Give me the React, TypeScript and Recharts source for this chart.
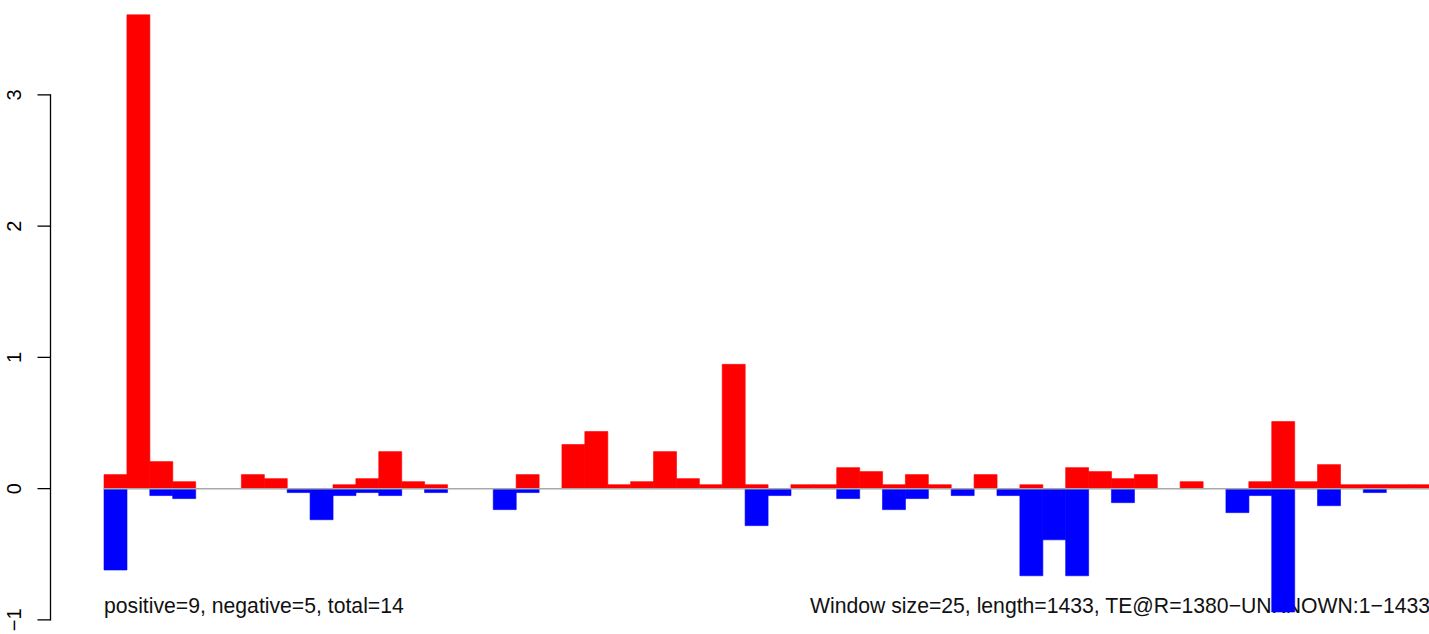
import { BarChart, Bar, XAxis, YAxis, ReferenceLine } from "recharts";

// window-by-window scores (58 windows of 25 bp)
const POSITIVE = [
  0.107, 3.61, 0.206, 0.053, 0, 0, 0.107, 0.076, 0, 0,
  0.03, 0.076, 0.282, 0.053, 0.03, 0, 0, 0, 0.107, 0,
  0.336, 0.435, 0.03, 0.053, 0.282, 0.076, 0.03, 0.947, 0.03, 0,
  0.03, 0.03, 0.16, 0.13, 0.03, 0.107, 0.03, 0, 0.107, 0,
  0.03, 0, 0.16, 0.13, 0.076, 0.107, 0, 0.053, 0, 0,
  0.053, 0.511, 0.053, 0.183, 0.03, 0.03, 0.03, 0.03,
];

const NEGATIVE = [
  -0.62, 0, -0.053, -0.076, 0, 0, 0, 0, -0.03, -0.237,
  -0.053, -0.03, -0.053, 0, -0.03, 0, 0, -0.16, -0.03, 0,
  0, 0, 0, 0, 0, 0, 0, 0, -0.282, -0.053,
  0, 0, -0.076, 0, -0.16, -0.076, 0, -0.053, 0, -0.053,
  -0.664, -0.39, -0.664, 0, -0.107, 0, 0, 0, 0, -0.183,
  -0.053, -0.94, 0, -0.13, 0, -0.03, 0, 0,
];

const Y_TICKS = [-1, 0, 1, 2, 3];
const Y_TICK_LABELS = ["\u22121", "0", "1", "2", "3"];
const Y_DOMAIN: [number, number] = [-1.1, 3.7];

const LEFT_NOTE = "positive=9, negative=5, total=14";
const RIGHT_NOTE = "Window size=25, length=1433, TE@R=1380\u2212UNKNOWN:1\u22121433";

const WIDTH = 1433;
const HEIGHT = 634;
const MARGIN = { top: 3, right: 1, bottom: 1, left: 44 };
const Y_AXIS_WIDTH = 60;
const PLOT_HEIGHT = HEIGHT - MARGIN.top - MARGIN.bottom;
const UNIT_PX = PLOT_HEIGHT / (Y_DOMAIN[1] - Y_DOMAIN[0]);

const AXIS_X = 50.5;
const TICK_LEN = 13;
const LABEL_X = 21;
const FONT = "'Liberation Sans', Arial, Helvetica, sans-serif";
const FONT_SIZE = 21.2;

const data = POSITIVE.map((p, i) => ({ window: i, pos: p, neg: NEGATIVE[i] }));

function AxisTick({ y, payload, index }: any) {
  const first = index === 0;
  const span = (Y_TICKS[Y_TICKS.length - 1] - Y_TICKS[0]) * UNIT_PX;
  return (
    <g>
      <line x1={AXIS_X - TICK_LEN} x2={AXIS_X} y1={y} y2={y} stroke="#000" strokeWidth={1.3} />
      {first && (
        <line x1={AXIS_X} x2={AXIS_X} y1={y + 0.65} y2={y - span - 0.65} stroke="#000" strokeWidth={1.3} />
      )}
      <text
        transform={`translate(${LABEL_X},${y}) rotate(-90)`}
        textAnchor="middle"
        fontSize={20}
        fontFamily={FONT}
        fill="#000"
      >
        {Y_TICK_LABELS[Y_TICKS.indexOf(payload.value)]}
      </text>
    </g>
  );
}

export default function App() {
  return (
    <div
      style={{
        position: "absolute",
        left: 0,
        top: 0,
        width: 1429,
        height: HEIGHT,
        overflow: "hidden",
        background: "#fff",
      }}
    >
      <BarChart
        width={WIDTH}
        height={HEIGHT}
        data={data}
        margin={MARGIN}
        stackOffset="sign"
        barCategoryGap={0}
        barGap={0}
      >
        <XAxis dataKey="window" hide />
        <YAxis
          type="number"
          domain={Y_DOMAIN}
          ticks={Y_TICKS}
          allowDataOverflow
          width={Y_AXIS_WIDTH}
          axisLine={false}
          tickLine={false}
          tick={<AxisTick />}
          interval={0}
        />
        <g fontFamily={FONT} fontSize={FONT_SIZE} fill="#111">
          <text x={104} y={612.5}>{LEFT_NOTE}</text>
          <text x={810} y={612.5}>{RIGHT_NOTE}</text>
        </g>
        <Bar
          dataKey="pos"
          stackId="w"
          fill="#FF0000"
          stroke="#FF0000"
          strokeWidth={0.6}
          isAnimationActive={false}
        />
        <Bar
          dataKey="neg"
          stackId="w"
          fill="#0000FF"
          stroke="#0000FF"
          strokeWidth={0.6}
          isAnimationActive={false}
        />
        <ReferenceLine y={0} stroke="#A9A9A9" strokeWidth={1.5} />
      </BarChart>
    </div>
  );
}
